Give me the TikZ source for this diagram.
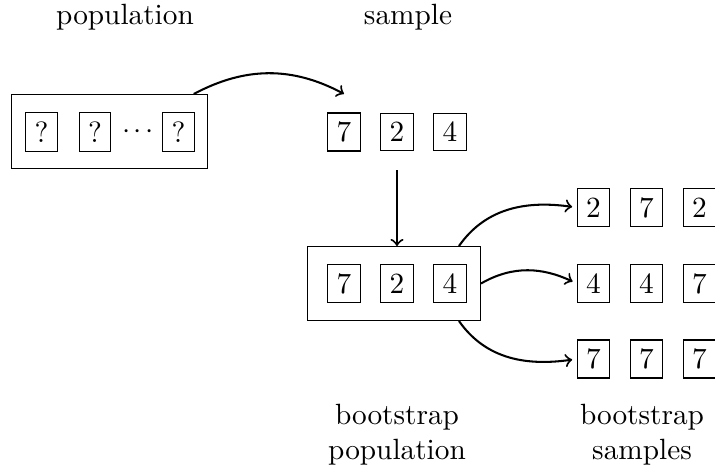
\documentclass[tikz,border=0pt]{standalone}
\begin{document}
\begin{tikzpicture}[x=0.3413pt,y=0.3413pt,
  cell/.style={draw,line width=0.4pt,inner sep=3pt,minimum height=12.9pt},
  groupbox/.style={draw,line width=0.4pt,minimum width=#1,minimum height=25.2pt,inner sep=0pt},
  label/.style={inner sep=0pt,align=center},
  flow/.style={->,line width=0.7pt},
]
\useasboundingbox (0,0) rectangle (715,467);

% population
\node[groupbox=66.8pt] (pop) at (109.5,335.5) {};
\node[cell] (p1) at (41.5,335) {?};
\node[cell] (p2) at (95,335) {?};
\node[inner sep=0pt] (pdots) at (138,335) {${\cdotp}\kern1.1pt{\cdotp}\kern1.1pt{\cdotp}$};
\node[cell] (p3) at (178.5,335) {?};

% sample
\node[draw=none,minimum width=54pt,minimum height=25.6pt,inner sep=0pt] (sgrp) at (397,335) {};
\node[cell] (s1) at (344,335) {7};
\node[cell] (s2) at (397,335) {2};
\node[cell] (s3) at (450,335) {4};

% bootstrap population
\node[groupbox=59pt] (boot) at (394,183.5) {};
\node[cell] (b1) at (344,183.5) {7};
\node[cell] (b2) at (397,183.5) {2};
\node[cell] (b3) at (450,183.5) {4};

% bootstrap samples
\node[cell] (r1a) at (593.5,259.5) {2};
\node[cell] (r1b) at (646.5,259.5) {7};
\node[cell] (r1c) at (699.5,259.5) {2};
\node[cell] (r2a) at (593.5,183.5) {4};
\node[cell] (r2b) at (646.5,183.5) {4};
\node[cell] (r2c) at (699.5,183.5) {7};
\node[cell] (r3a) at (593.5,108) {7};
\node[cell] (r3b) at (646.5,108) {7};
\node[cell] (r3c) at (699.5,108) {7};

% labels
\node[label,anchor=base] (lpop) at (125,442.5) {population};
\node[label,anchor=base] (lsamp) at (408,442.5) {sample};
\node[label] (lboot) at (397,32.7) {bootstrap\\population};
\node[label] (lbs) at (642,32.7) {bootstrap\\samples};

% arrows
\draw[flow] (pop.24) to[out=28,in=152] (sgrp.north -| s1);
\draw[flow] (sgrp.south) -- (sgrp.south |- boot.north);
\draw[flow,shorten >=1.6pt] (boot.30) to[out=55,in=172] (r1a.west);
\draw[flow,shorten >=1.6pt] (boot.east) to[out=30,in=155] (r2a.west);
\draw[flow,shorten >=1.6pt] (boot.-30) to[out=-55,in=188] (r3a.west);
\end{tikzpicture}
\end{document}
